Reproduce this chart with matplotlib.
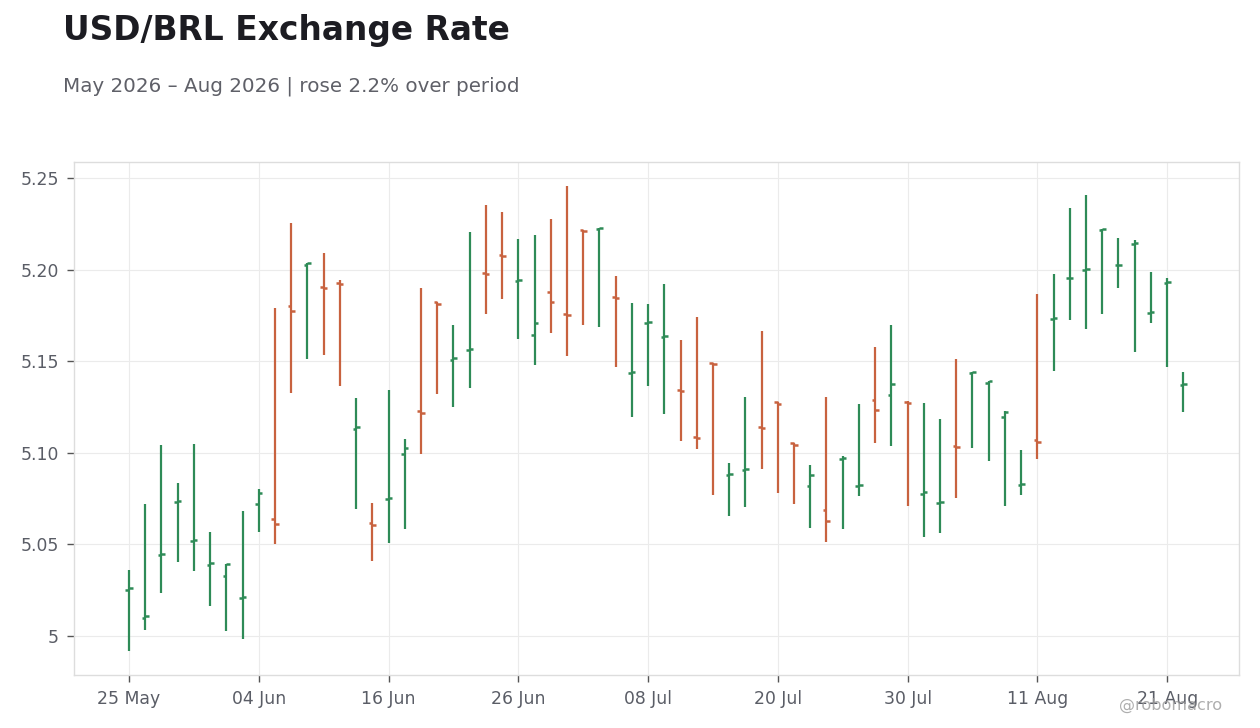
import matplotlib
matplotlib.use("Agg")
import matplotlib.pyplot as plt
import pandas as pd
import numpy as np

# ---- data ----
dates = pd.bdate_range("2026-05-25", periods=66)
opens = [5.025, 5.010, 5.044, 5.073, 5.052, 5.039, 5.033, 5.021, 5.072, 5.064,
         5.180, 5.2025, 5.1905, 5.1928, 5.1132, 5.0615, 5.0748, 5.0995, 5.1226, 5.1821,
         5.1508, 5.1562, 5.1983, 5.2078, 5.1939, 5.1641, 5.1876, 5.1756, 5.2214, 5.2224,
         5.1851, 5.1434, 5.1710, 5.1634, 5.1343, 5.1084, 5.1490, 5.0880, 5.0907, 5.1141,
         5.1275, 5.1052, 5.0817, 5.0686, 5.0968, 5.0820, 5.1286, 5.1314, 5.1277, 5.0775,
         5.0728, 5.1035, 5.1437, 5.1379, 5.1194, 5.0824, 5.1072, 5.1732, 5.1952, 5.1996,
         5.2214, 5.2024, 5.2141, 5.1765, 5.1928, 5.1368]
highs = [5.0362, 5.0722, 5.1044, 5.0837, 5.1050, 5.0569, 5.0395, 5.0680, 5.0804, 5.1792,
         5.2256, 5.2034, 5.2092, 5.1945, 5.1301, 5.0728, 5.1345, 5.1077, 5.1901, 5.1825,
         5.1699, 5.2207, 5.2354, 5.2316, 5.2169, 5.2191, 5.2278, 5.2458, 5.2214, 5.2227,
         5.1967, 5.1820, 5.1814, 5.1923, 5.1618, 5.1743, 5.1490, 5.0946, 5.1306, 5.1667,
         5.1275, 5.1052, 5.0935, 5.1306, 5.0983, 5.1268, 5.1579, 5.1699, 5.1283, 5.1274,
         5.1186, 5.1514, 5.1443, 5.1394, 5.1228, 5.1017, 5.1869, 5.1978, 5.2338, 5.2409,
         5.2222, 5.2174, 5.2163, 5.1989, 5.1956, 5.1442]
lows = [4.9916, 5.0031, 5.0235, 5.0402, 5.0353, 5.0162, 5.0025, 4.9982, 5.0566, 5.0500,
        5.1325, 5.1510, 5.1532, 5.1363, 5.0691, 5.0408, 5.0506, 5.0582, 5.0992, 5.1319,
        5.1248, 5.1356, 5.1756, 5.1838, 5.1619, 5.1477, 5.1652, 5.1527, 5.1696, 5.1685,
        5.1467, 5.1194, 5.1363, 5.1210, 5.1063, 5.1019, 5.0768, 5.0653, 5.0702, 5.0910,
        5.0779, 5.0719, 5.0588, 5.0511, 5.0582, 5.0762, 5.1052, 5.1037, 5.0708, 5.0539,
        5.0560, 5.0751, 5.1024, 5.0953, 5.0708, 5.0768, 5.0964, 5.1445, 5.1723, 5.1674,
        5.1756, 5.1898, 5.1548, 5.1707, 5.1467, 5.1221]
closes = [5.026, 5.011, 5.045, 5.0734, 5.0525, 5.040, 5.0391, 5.0213, 5.0779, 5.0610,
          5.1772, 5.2034, 5.1900, 5.1922, 5.1140, 5.0608, 5.0752, 5.1024, 5.1219, 5.1814,
          5.1516, 5.1566, 5.1978, 5.2074, 5.1943, 5.1707, 5.1821, 5.1750, 5.2209, 5.2226,
          5.1847, 5.1441, 5.1714, 5.1638, 5.1339, 5.1079, 5.1483, 5.0884, 5.0912, 5.1136,
          5.1268, 5.1044, 5.0877, 5.0626, 5.0972, 5.0826, 5.1232, 5.1374, 5.1274, 5.0784,
          5.0732, 5.1030, 5.1440, 5.1392, 5.1221, 5.0828, 5.1061, 5.1736, 5.1956, 5.2001,
          5.2220, 5.2027, 5.2145, 5.1768, 5.1932, 5.1377]

y_ticks = [5.00, 5.05, 5.10, 5.15, 5.20, 5.25]
y_tick_labels = ["5", "5.05", "5.10", "5.15", "5.20", "5.25"]
tick_step = 8

title = "USD/BRL Exchange Rate"
subtitle = "May 2026 \u2013 Aug 2026 | rose 2.2% over period"
watermark = "@robomacro"

UP = "#2e8b57"
DOWN = "#c8623f"

# ---- figure ----
plt.rcParams["font.family"] = ["DejaVu Sans"]
fig = plt.figure(figsize=(12.6, 7.28), dpi=100)
fig.patch.set_facecolor("white")
ax = fig.add_axes([74/1260, 1-675/728, (1239-74)/1260, (675-162)/728])
ax.set_facecolor("white")

x = np.arange(len(opens))
o = np.array(opens); h = np.array(highs); l = np.array(lows); c = np.array(closes)
colors = [UP if cc >= oo else DOWN for oo, cc in zip(o, c)]
tw = 0.22
ax.vlines(x, l, h, colors=colors, linewidth=1.6, zorder=3)
ax.hlines(o, x - tw, x, colors=colors, linewidth=1.8, zorder=3)
ax.hlines(c, x, x + tw, colors=colors, linewidth=1.8, zorder=3)

ax.set_xlim(-3.39, 68.43)
ax.set_ylim(4.9787, 5.2587)
tick_idx = list(range(0, len(x), tick_step))
ax.set_xticks(tick_idx)
ax.set_xticklabels([dates[i].strftime("%d %b") for i in tick_idx])
ax.set_yticks(y_ticks)
ax.set_yticklabels(y_tick_labels)

ax.grid(True, color="#ebebeb", linewidth=0.8, zorder=0)
ax.set_axisbelow(True)
for s in ax.spines.values():
    s.set_color("#dddddd")
    s.set_linewidth(1.0)
ax.tick_params(axis="both", colors="#555555", labelcolor="#5a5d66", labelsize=12.4,
               length=5, width=1)
ax.tick_params(axis="x", pad=6)
ax.tick_params(axis="y", pad=6)

fig.text(63/1260, 1-40/728, title, fontsize=23.7, fontweight="bold", color="#1c1c22",
         va="baseline", ha="left")
fig.text(63/1260, 1-92/728, subtitle, fontsize=14.3, color="#5f6068",
         va="baseline", ha="left")
fig.text(1222/1260, 1-710/728, watermark, fontsize=11.6, color="#9a9a9a", alpha=0.8,
         va="baseline", ha="right")

fig.savefig("out.png", dpi=100, facecolor=fig.get_facecolor())
